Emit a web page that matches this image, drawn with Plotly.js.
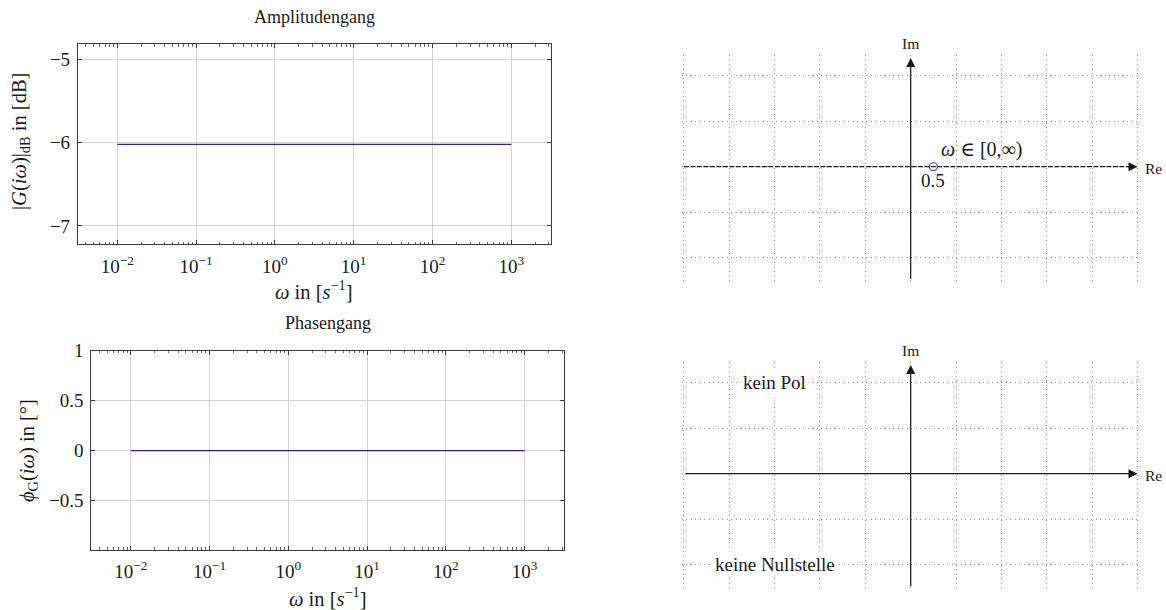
<!DOCTYPE html>
<html>
<head>
<meta charset="utf-8">
<script src="https://cdn.plot.ly/plotly-3.0.1.min.js"></script>
<style>html,body{margin:0;padding:0;background:#fff;}#chart{width:1166px;height:610px;}</style>
</head>
<body>
<div id="chart"></div>
<script>
// ---- data ----
const omega = [0.01, 0.1, 1, 10, 100, 1000];
const magDb = [-6.02, -6.02, -6.02, -6.02, -6.02, -6.02];
const phaseDeg = [0, 0, 0, 0, 0, 0];
const nyquistRe = [0.5];
const nyquistIm = [0];
const freqTickVals = [0.01, 0.1, 1, 10, 100, 1000];
const freqTickText = ['10<sup>−2</sup>', '10<sup>−1</sup>', '10<sup>0</sup>', '10<sup>1</sup>', '10<sup>2</sup>', '10<sup>3</sup>'];
const magTickVals = [-7, -6, -5];
const magTickText = ['−7', '−6', '−5'];
const phaseTickVals = [-0.5, 0, 0.5, 1];
const phaseTickText = ['−0.5', '0', '0.5', '1'];

// ---- helpers ----
const W = 1166, H = 610;
const px = v => v / W;
const py = v => 1 - v / H;
const FONT = '"Liberation Serif", "DejaVu Serif", serif';
const TXT = '#1a1a1a';
const FRAME = '#3a3a3a';
const BLUE = '#2424a4';

function bodeX(dom, yref) {
  return {
    type: 'log', domain: dom, anchor: yref, range: [-2.5, 3.5],
    tickmode: 'array', tickvals: freqTickVals, ticktext: freqTickText,
    ticks: 'inside', ticklen: 4, tickwidth: 1, tickcolor: FRAME,
    showline: true, linecolor: FRAME, linewidth: 1, mirror: 'ticks',
    showgrid: true, gridcolor: '#d2d2d2', gridwidth: 1, zeroline: false,
    minor: {dtick: 'D1', ticks: 'inside', ticklen: 2.5, tickwidth: 0.8, tickcolor: FRAME, showgrid: false},
    tickfont: {family: FONT, size: 19, color: TXT},
    ticklabelstandoff: 5
  };
}
function bodeY(dom, xref, rng, vals, text) {
  return {
    domain: dom, anchor: xref, range: rng,
    tickmode: 'array', tickvals: vals, ticktext: text,
    ticks: 'inside', ticklen: 4, tickwidth: 1, tickcolor: FRAME,
    showline: true, linecolor: FRAME, linewidth: 1, mirror: 'ticks',
    showgrid: true, gridcolor: '#d2d2d2', gridwidth: 1, zeroline: false,
    tickfont: {family: FONT, size: 19, color: TXT},
    ticklabelstandoff: 3
  };
}
function planeX(dom, yref) {
  return {
    domain: dom, anchor: yref, range: [-5.05, 5.05],
    tickmode: 'linear', tick0: 0, dtick: 1,
    showticklabels: false, ticks: '', showline: false, zeroline: false,
    showgrid: true, gridcolor: '#909090', gridwidth: 1, griddash: '1px,3.5px'
  };
}
function planeY(dom, xref) {
  return {
    domain: dom, anchor: xref, range: [-2.55, 2.45],
    tickmode: 'linear', tick0: 0, dtick: 1,
    showticklabels: false, ticks: '', showline: false, zeroline: false,
    showgrid: true, gridcolor: '#909090', gridwidth: 1, griddash: '1px,3.5px'
  };
}

const traces = [
  {x: omega, y: magDb, xaxis: 'x', yaxis: 'y', mode: 'lines', line: {color: BLUE, width: 1.3}, hoverinfo: 'skip'},
  {x: omega, y: phaseDeg, xaxis: 'x2', yaxis: 'y2', mode: 'lines', line: {color: BLUE, width: 1.3}, hoverinfo: 'skip'},
  {x: nyquistRe, y: nyquistIm, xaxis: 'x3', yaxis: 'y3', mode: 'markers',
   marker: {symbol: 'circle-open', size: 8, color: '#3a3ac0', line: {width: 1.1, color: '#3a3ac0'}}, hoverinfo: 'skip'}
];

const AX = '#161616';
function arrow(xr, yr, x, y, ax, ay) {
  return {xref: xr, yref: yr, axref: xr, ayref: yr, x: x, y: y, ax: ax, ay: ay, text: '',
          showarrow: true, arrowhead: 2, arrowsize: 1.5, arrowwidth: 1.2, arrowcolor: AX, standoff: 0, startstandoff: 0};
}
function ptext(t, x, y, size, opts) {
  return Object.assign({xref: 'paper', yref: 'paper', x: px(x), y: py(y), text: t, showarrow: false,
    xanchor: 'center', yanchor: 'middle', font: {family: FONT, size: size, color: TXT}}, opts || {});
}

const annotations = [
  ptext('Amplitudengang', 314.3, 17, 18),
  ptext('Phasengang', 327.7, 323, 18),
  ptext('<i>ω</i> in [<i>s</i><sup>−1</sup>]', 314.3, 290, 20.5),
  ptext('<i>ω</i> in [<i>s</i><sup>−1</sup>]', 327.7, 597, 20.5),
  ptext('|<i>G</i>(<i>iω</i>)|<sub>dB</sub> in [dB]', 20, 142, 20.5, {textangle: -90}),
  ptext('<i>ϕ</i><sub>G</sub>(<i>iω</i>) in [°]', 28, 451, 20.5, {textangle: -90}),
  // complex plane (top)
  arrow('x3', 'y3', 5.0, 0, 4.75, 0),
  arrow('x3', 'y3', 0, 2.39, 0, -2.5),
  ptext('Re', 1153, 168, 15.5),
  ptext('Im', 910.7, 43, 15.5),
  {xref: 'x3', yref: 'y3', x: 0.63, y: 0.37, text: '<i>ω</i> ∈ [0,∞)', showarrow: false, xanchor: 'left', yanchor: 'middle',
   font: {family: FONT, size: 20, color: TXT}},
  {xref: 'x3', yref: 'y3', x: 0.49, y: -0.3, text: '0.5', showarrow: false, xanchor: 'center', yanchor: 'middle',
   font: {family: FONT, size: 19, color: TXT}},
  // complex plane (bottom)
  arrow('x4', 'y4', 5.0, 0, -5.0, 0),
  arrow('x4', 'y4', 0, 2.39, 0, -2.5),
  ptext('Re', 1153, 475, 15.5),
  ptext('Im', 910.7, 350, 15.5),
  {xref: 'x4', yref: 'y4', x: -3, y: 2, text: 'kein Pol', showarrow: false, bgcolor: '#ffffff', borderpad: 2,
   font: {family: FONT, size: 19, color: TXT}},
  {xref: 'x4', yref: 'y4', x: -3, y: -2, text: 'keine Nullstelle', showarrow: false, bgcolor: '#ffffff', borderpad: 2,
   font: {family: FONT, size: 19, color: TXT}}
];

const shapes = [
  {type: 'line', xref: 'x3', yref: 'y3', x0: -5, x1: 4.85, y0: 0, y1: 0, line: {color: AX, width: 1.2, dash: '5px,1.5px'}}
];

const layout = {
  width: W, height: H, margin: {l: 0, r: 0, t: 0, b: 0},
  paper_bgcolor: '#ffffff', plot_bgcolor: 'rgba(0,0,0,0)', showlegend: false,
  font: {family: FONT, color: TXT},
  xaxis: bodeX([px(77.9), px(550.7)], 'y'),
  yaxis: bodeY([py(244), py(44)], 'x', [-7.216, -4.817], magTickVals, magTickText),
  xaxis2: bodeX([px(91.4), px(564)], 'y2'),
  yaxis2: bodeY([py(549.5), py(350.7)], 'x2', [-0.99, 1.0], phaseTickVals, phaseTickText),
  xaxis3: planeX([px(681.6), px(1139.8)], 'y3'),
  yaxis3: planeY([py(282.7), py(55.2)], 'x3'),
  xaxis4: planeX([px(681.6), px(1139.8)], 'y4'),
  yaxis4: planeY([py(589.7), py(362.2)], 'x4'),
  annotations: annotations,
  shapes: shapes
};

Plotly.newPlot('chart', traces, layout, {staticPlot: true, displayModeBar: false});
</script>
</body>
</html>
